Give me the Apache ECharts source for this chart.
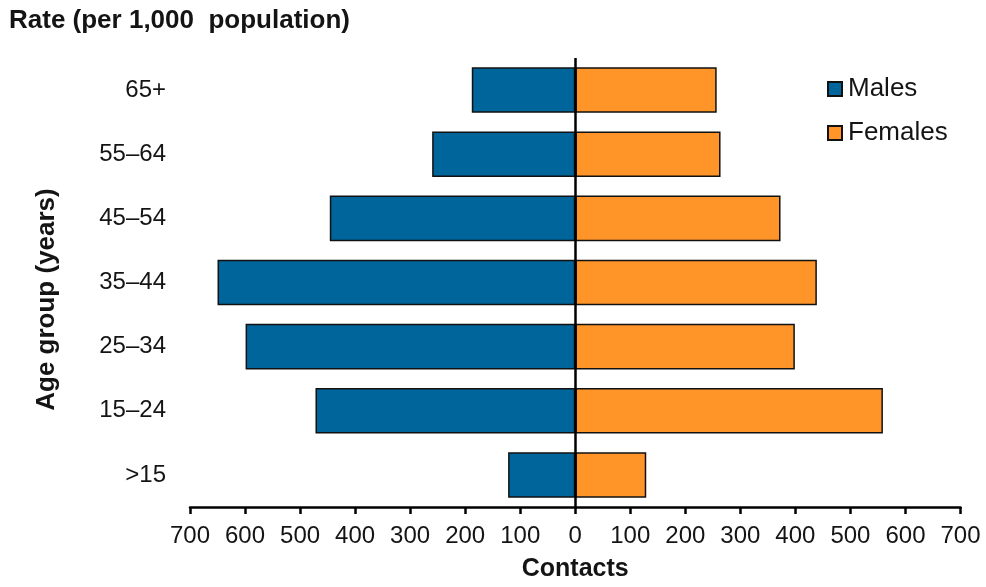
<!DOCTYPE html>
<html>
<head>
<meta charset="utf-8">
<script src="https://cdn.jsdelivr.net/npm/echarts@6/dist/echarts.min.js"></script>
<style>
  html, body { margin: 0; padding: 0; background: #fff; }
  #chart { width: 986px; height: 587px; }
</style>
</head>
<body>
<div id="chart"></div>
<script>
// Age groups, bottom to top
const ageGroups = ['>15', '15–24', '25–34', '35–44', '45–54', '55–64', '65+'];
// Contact rates per 1,000 population
const males   = [122, 472, 599, 650, 446, 260, 188];
const females = [129, 559, 399, 439, 373, 264, 257];
// Symmetric axis ticks
const axisMin = -700;
const axisMax = 700;
const axisStep = 100;

const FONT = '"Liberation Sans", Arial, sans-serif';
const INK = '#141414';
const chart = echarts.init(document.getElementById('chart'));

chart.setOption({
  animation: false,
  backgroundColor: '#ffffff',
  textStyle: { fontFamily: FONT },
  title: {
    text: 'Rate (per 1,000  population)',
    left: 9,
    top: 8,
    padding: 0,
    textStyle: { fontFamily: FONT, fontSize: 26, fontWeight: 'bold', color: INK }
  },
  legend: {
    orient: 'vertical',
    left: 827,
    top: 76,
    padding: 0,
    itemWidth: 14,
    itemHeight: 14,
    itemGap: 18,
    icon: 'rect',
    textStyle: { fontFamily: FONT, fontSize: 26, color: INK, padding: [0, 0, 0, 1] },
    data: ['Males', 'Females']
  },
  grid: { left: 190, right: 25.5, top: 58, bottom: 78 },
  xAxis: {
    type: 'value',
    min: axisMin,
    max: axisMax,
    interval: axisStep,
    name: 'Contacts',
    nameLocation: 'middle',
    nameGap: 50,
    nameTextStyle: { fontFamily: FONT, fontSize: 25, fontWeight: 'bold', color: INK },
    axisLine: { show: true, onZero: false, lineStyle: { color: '#000', width: 2.5 } },
    axisTick: { show: true, length: 7, lineStyle: { color: '#000', width: 2.5 } },
    axisLabel: {
      margin: 17,
      fontFamily: FONT,
      fontSize: 24,
      color: INK,
      formatter: v => String(Math.abs(v))
    },
    splitLine: { show: false }
  },
  yAxis: {
    type: 'category',
    data: ageGroups,
    name: 'Age group (years)',
    nameLocation: 'middle',
    nameGap: 130,
    nameRotate: 90,
    nameTextStyle: {
      fontFamily: FONT, fontSize: 26, fontWeight: 'bold', color: INK,
      padding: [0, 34, 0, 0]
    },
    axisLine: { show: false },
    axisTick: { show: false },
    axisLabel: { margin: 24, fontFamily: FONT, fontSize: 24, color: INK }
  },
  series: [
    {
      name: 'Males',
      type: 'bar',
      barWidth: '71%',
      barGap: '-100%',
      data: males.map(v => -v),
      itemStyle: { color: '#00659B', borderColor: '#111', borderWidth: 1.5 },
      markLine: {
        silent: true,
        symbol: 'none',
        label: { show: false },
        lineStyle: { color: '#000', width: 2.5, type: 'solid' },
        data: [{ xAxis: 0 }]
      }
    },
    {
      name: 'Females',
      type: 'bar',
      barWidth: '71%',
      barGap: '-100%',
      data: females,
      itemStyle: { color: '#FF9428', borderColor: '#111', borderWidth: 1.5 }
    }
  ]
});
</script>
</body>
</html>
